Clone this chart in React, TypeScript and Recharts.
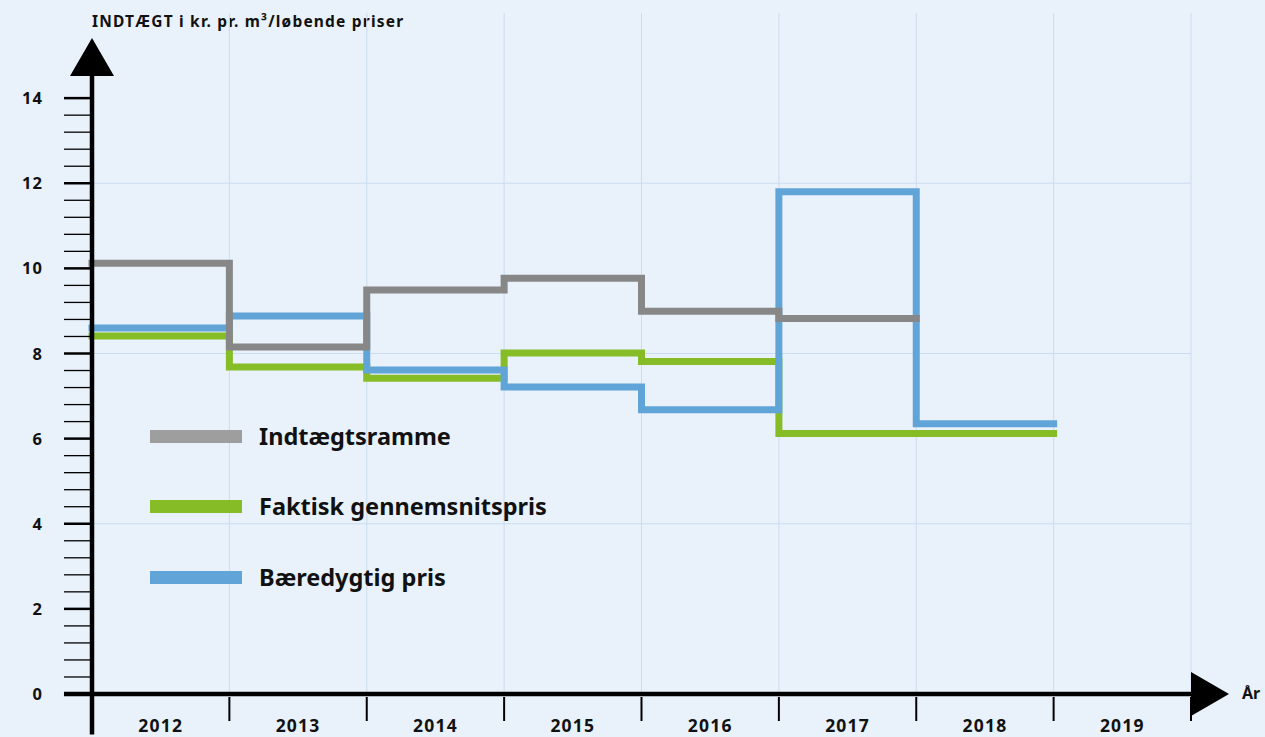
import { ComposedChart, Line, XAxis, YAxis, CartesianGrid, ReferenceLine, ReferenceDot, Legend } from 'recharts'

const years = ['2012', '2013', '2014', '2015', '2016', '2017', '2018', '2019']
// kr. pr. m3, one value per year (step)
const indtaegtsramme = [10.12, 8.15, 9.49, 9.77, 8.99, 8.82]
const faktiskPris = [8.41, 7.68, 7.42, 8.01, 7.81, 6.12, 6.12]
const baeredygtigPris = [8.6, 8.88, 7.61, 7.21, 6.68, 11.8, 6.35]
const yLabels = [0, 2, 4, 6, 8, 10, 12, 14]

const W = 1265
const H = 737
const font = '"Noto Sans", sans-serif'

const series = [
  { key: 'indt', name: 'Indtægtsramme', color: '#878787', swatch: '#9e9e9e', values: indtaegtsramme },
  { key: 'fakt', name: 'Faktisk gennemsnitspris', color: '#86bc25', swatch: '#86bc25', values: faktiskPris },
  { key: 'baer', name: 'Bæredygtig pris', color: '#61a4d8', swatch: '#61a4d8', values: baeredygtigPris },
]
// draw order: green, blue, grey on top
const drawOrder = ['fakt', 'baer', 'indt']

// step data: last value repeated at end of its year so the step has a width
const data = years.map((_, i) => {
  const row: Record<string, number | null> = { x: i }
  for (const s of series) {
    const n = s.values.length
    row[s.key] = i < n ? s.values[i] : i === n ? s.values[n - 1] : null
  }
  return row
})

const yTicks = Array.from({ length: 36 }, (_, i) => Math.round(i * 4) / 10)
const xTicks = Array.from({ length: 17 }, (_, i) => i / 2)

const YTick = (props: any) => {
  const { x, y, payload } = props
  const v = payload.value
  const major = yLabels.includes(v)
  return (
    <g>
      <line x1={x - 28} x2={x - 1} y1={y} y2={y} stroke="#000" strokeWidth={major ? 2.5 : 1.3} />
      {major && (
        <text x={x - 49} y={y} dy={6} textAnchor="end" fontFamily={font} fontWeight={700} fontSize={16.5} letterSpacing={1} fill="#111">
          {v}
        </text>
      )}
    </g>
  )
}

const XTick = (props: any) => {
  const { x, y, payload } = props
  const v = payload.value
  if (Number.isInteger(v)) {
    if (v === 0) return <g />
    return <line x1={x} x2={x} y1={y + 3} y2={y + 27} stroke="#000" strokeWidth={2} />
  }
  return (
    <text x={x} y={y} dy={38} textAnchor="middle" fontFamily={font} fontWeight={700} fontSize={17.5} letterSpacing={1.2} fill="#111">
      {years[Math.floor(v)]}
    </text>
  )
}

const rowHeights = [68, 72, 70]

const LegendBox = () => (
  <div style={{ fontFamily: font }}>
    {series.map((s, i) => (
      <div key={s.key} style={{ display: 'flex', alignItems: 'center', height: rowHeights[i] }}>
        <div style={{ width: 92, height: 13, background: s.swatch, marginRight: 17 }} />
        <span style={{ fontSize: 23.5, fontWeight: 700, color: '#111' }}>{s.name}</span>
      </div>
    ))}
  </div>
)

const upArrow = (p: any) => (
  <polygon points={`${p.cx - 22},${p.cy} ${p.cx + 22},${p.cy} ${p.cx},${p.cy - 38}`} fill="#000" />
)
const rightArrow = (p: any) => (
  <polygon points={`${p.cx},${p.cy - 22} ${p.cx},${p.cy + 22} ${p.cx + 38},${p.cy}`} fill="#000" />
)

export default function App() {
  return (
    <div style={{ position: 'fixed', left: 0, top: 0, width: W, height: H, background: '#e9f1fb', fontFamily: font }}>
      <div style={{ position: 'absolute', left: 92, top: 10, fontSize: 15.5, fontWeight: 700, letterSpacing: 1.2, color: '#111', whiteSpace: 'nowrap' }}>
        INDTÆGT i kr. pr. m³/løbende priser
      </div>
      <div style={{ position: 'absolute', left: 1242, top: 682, fontSize: 16, fontWeight: 700, color: '#111' }}>År</div>
      <ComposedChart width={W} height={H} data={data} margin={{ top: 13, right: 74, bottom: 0, left: 0 }}>
        <CartesianGrid
          stroke="#cadcf1"
          strokeWidth={1}
          horizontalValues={[4, 8, 12]}
          verticalValues={[1, 2, 3, 4, 5, 6, 7, 8]}
        />
        <XAxis
          dataKey="x"
          type="number"
          domain={[0, 8]}
          ticks={xTicks}
          interval={0}
          height={43}
          axisLine={false}
          tickLine={false}
          tickSize={0}
          tickMargin={0}
          tick={<XTick />}
        />
        <YAxis
          type="number"
          domain={[0, 16]}
          ticks={yTicks}
          interval={0}
          width={92}
          axisLine={false}
          tickLine={false}
          tickSize={0}
          tickMargin={0}
          tick={<YTick />}
        />
        {drawOrder.map(k => {
          const s = series.find(x => x.key === k)!
          return (
            <Line
              key={s.key}
              type="stepAfter"
              dataKey={s.key}
              name={s.name}
              stroke={s.color}
              strokeWidth={7}
              strokeLinecap="square"
              strokeLinejoin="miter"
              dot={false}
              activeDot={false}
              isAnimationActive={false}
            />
          )
        })}
        <ReferenceLine segment={[{ x: -0.204, y: 0 }, { x: 8, y: 0 }]} stroke="#000" strokeWidth={4.5} ifOverflow="visible" />
        <ReferenceLine segment={[{ x: 0, y: -0.95 }, { x: 0, y: 14.55 }]} stroke="#000" strokeWidth={4.5} ifOverflow="visible" />
        <ReferenceDot x={0} y={14.52} ifOverflow="visible" shape={upArrow} />
        <ReferenceDot x={8} y={0} ifOverflow="visible" shape={rightArrow} />
        <Legend
          layout="vertical"
          align="center"
          verticalAlign="middle"
          wrapperStyle={{ left: 150, top: 402, width: 520 }}
          content={<LegendBox />}
        />
      </ComposedChart>
    </div>
  )
}
